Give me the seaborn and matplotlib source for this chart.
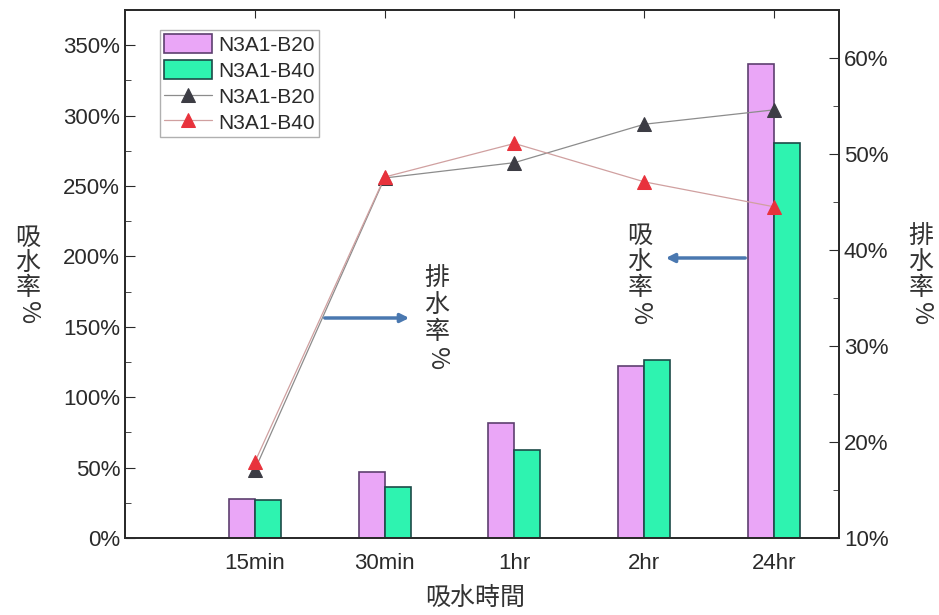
import numpy as np
import pandas as pd
import seaborn as sns
import matplotlib.pyplot as plt
from matplotlib.ticker import PercentFormatter, MultipleLocator

sns.set_style("white")
plt.rcParams['font.family'] = ['Liberation Sans', 'Noto Sans CJK TC']

# data
times = ['15min', '30min', '1hr', '2hr', '24hr']
samples = ['N3A1-B20', 'N3A1-B40']
absorb_b20 = [27.7, 47, 82, 122, 336.5]     # 吸水率 % (bars, left axis)
absorb_b40 = [27, 36, 62.5, 126.5, 280.5]
drain_b20 = [17.1, 47.5, 49.1, 53.1, 54.6]  # 排水率 % (lines, right axis)
drain_b40 = [17.9, 47.6, 51.1, 47.1, 44.5]

bar_df = pd.DataFrame({'time': times * 2,
                       'sample': [samples[0]] * 5 + [samples[1]] * 5,
                       'value': absorb_b20 + absorb_b40})
line_df = pd.DataFrame({'pos': list(range(len(times))) * 2,
                        'sample': [samples[0]] * 5 + [samples[1]] * 5,
                        'value': drain_b20 + drain_b40})

W, H = 939, 615
fig = plt.figure(figsize=(W / 100, H / 100), dpi=100)
ax = fig.add_axes([125 / W, 1 - 538 / H, (839 - 125) / W, (538 - 10) / H])

bar_cols = ['#eaa6f7', '#2ef3b0']
edge_cols = ['#5e3f70', '#1c4a48']
sns.barplot(data=bar_df, x='time', y='value', hue='sample', order=times,
            hue_order=samples, palette=bar_cols, width=0.4, saturation=1,
            linewidth=1.2, ax=ax)
for cont, ec in zip(ax.containers, edge_cols):
    for p in cont:
        p.set_edgecolor(ec)
bar_h, bar_l = ax.get_legend_handles_labels()
for h, ec in zip(bar_h, edge_cols):
    h.set_edgecolor(ec)
    h.set_linewidth(1.2)
ax.get_legend().remove()

ax.set_xlim(-1, 4.5)
ax.set_ylim(0, 375)
ax.yaxis.set_major_locator(MultipleLocator(50))
ax.yaxis.set_minor_locator(MultipleLocator(25))
ax.yaxis.set_major_formatter(PercentFormatter(decimals=0))
ax.set_xlabel('')
ax.set_ylabel('')
ax.tick_params(axis='both', which='both', direction='in', labelsize=16, colors='#2a2a2a')
ax.tick_params(axis='x', top=True, bottom=True, length=6, pad=11)
ax.tick_params(axis='y', which='major', left=True, length=7)
ax.tick_params(axis='y', which='minor', left=True, length=4)
for s in ax.spines.values():
    s.set_color('#2a2a2a')
    s.set_linewidth(1.3)

ax2 = ax.twinx()
line_cols = ['#8c8c8c', '#d0a0a0']
mark_cols = ['#3c3c44', '#e8323c']
for smp, lc, mc in zip(samples, line_cols, mark_cols):
    sns.lineplot(data=line_df[line_df['sample'] == smp], x='pos', y='value',
                 color=lc, linewidth=0.9, marker='^', markersize=10,
                 markerfacecolor=mc, markeredgecolor=mc, label=smp, ax=ax2)
ax2.set_xlim(-1, 4.5)
ax2.set_ylim(10, 65)
ax2.yaxis.set_major_locator(MultipleLocator(10))
ax2.yaxis.set_minor_locator(MultipleLocator(5))
ax2.yaxis.set_major_formatter(PercentFormatter(decimals=0))
ax2.set_ylabel('')
ax2.set_xlabel('')
ax2.tick_params(axis='y', which='both', direction='in', right=True, labelsize=16, colors='#2a2a2a')
ax2.tick_params(axis='y', which='major', length=7)
ax2.tick_params(axis='y', which='minor', length=4)
for s in ax2.spines.values():
    s.set_color('#2a2a2a')
    s.set_linewidth(1.3)
line_h, line_l = ax2.get_legend_handles_labels()
if ax2.get_legend():
    ax2.get_legend().remove()

leg = ax2.legend(bar_h + line_h, bar_l + line_l, loc='upper left',
                 bbox_to_anchor=(160 / W, 1 - 30 / H), bbox_transform=fig.transFigure,
                 borderaxespad=0, fontsize=15, handlelength=2.3, handleheight=1.05,
                 labelspacing=0.25, borderpad=0.2, handletextpad=0.3,
                 fancybox=False, framealpha=1)
leg.get_frame().set_edgecolor('#b0b0b0')
for t in leg.get_texts():
    t.set_color('#2a2a2a')

cjk = ['Noto Sans CJK TC', 'DejaVu Sans']


def vlabel(x, y0, s, step=26, size=18):
    # stacked vertical chinese label, % turned sideways
    for i, ch in enumerate(s):
        rot = -90 if ch == '%' else 0
        fig.text(x / W, 1 - (y0 + i * step) / H, ch, rotation=rot, ha='center',
                 va='center', fontsize=size, family=cjk, color='#333333')


vlabel(28, 238, '吸水率%', step=25)
vlabel(921, 236, '排水率%', step=26)
vlabel(437, 278, '排水率%', step=27)
vlabel(640, 236, '吸水率%', step=26)

fig.text(475 / W, 1 - 598 / H, '吸水時間', ha='center', va='center', fontsize=18,
         family=cjk, color='#333333')

arrow = dict(arrowstyle='-|>,head_length=0.5,head_width=0.25', color='#4a78b0', lw=2.5)
fig.add_artist(plt.Annotation('', xy=(412 / W, 1 - 318 / H), xytext=(322 / W, 1 - 318 / H),
                              xycoords='figure fraction', textcoords='figure fraction',
                              arrowprops=arrow))
fig.add_artist(plt.Annotation('', xy=(663 / W, 1 - 258 / H), xytext=(748 / W, 1 - 258 / H),
                              xycoords='figure fraction', textcoords='figure fraction',
                              arrowprops=arrow))

fig.savefig('out.png', dpi=100)
